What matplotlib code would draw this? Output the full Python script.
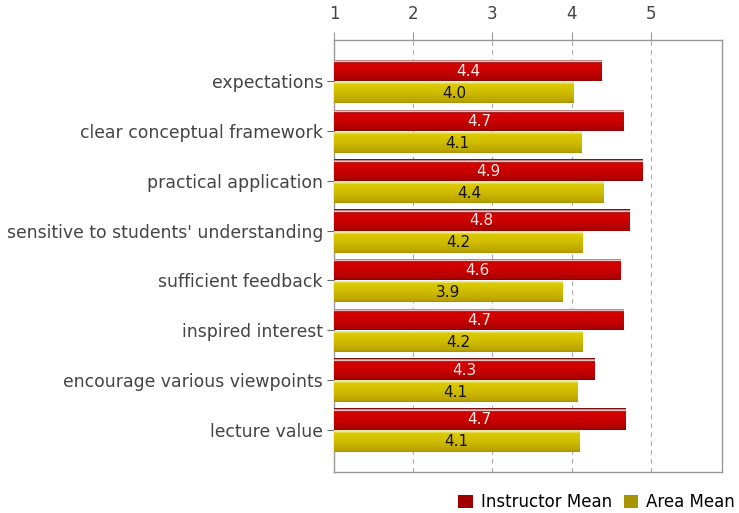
import numpy as np
import matplotlib
matplotlib.use("Agg")
import matplotlib.pyplot as plt
from matplotlib.colors import LinearSegmentedColormap
from matplotlib.patches import Patch

categories = ["expectations", "clear conceptual framework", "practical application",
              "sensitive to students' understanding", "sufficient feedback",
              "inspired interest", "encourage various viewpoints", "lecture value"]
instructor_mean = [4.38, 4.66, 4.90, 4.73, 4.62, 4.66, 4.29, 4.68]
area_mean = [4.03, 4.12, 4.41, 4.14, 3.89, 4.14, 4.07, 4.10]
instructor_labels = ["4.4", "4.7", "4.9", "4.8", "4.6", "4.7", "4.3", "4.7"]
area_labels = ["4.0", "4.1", "4.4", "4.2", "3.9", "4.2", "4.1", "4.1"]
xticks = [1, 2, 3, 4, 5]

fig = plt.figure(figsize=(7.39, 5.13), dpi=100)
ax = fig.add_axes([0.452, 0.080, 0.525, 0.842])

base = 1.0
h = 0.43
y = np.arange(len(categories))

red_cmap = LinearSegmentedColormap.from_list("r", [
    (0.0, "#7a1010"), (0.05, "#7a1010"), (0.07, "#f4dada"), (0.12, "#f4dada"),
    (0.15, "#8a0808"), (0.2, "#d80000"), (0.6, "#c60000"), (0.93, "#aa0000"),
    (1.0, "#900000")])
yel_cmap = LinearSegmentedColormap.from_list("y", [
    (0.0, "#f6f0b8"), (0.08, "#f0e690"), (0.14, "#dccb00"), (0.6, "#ccb800"),
    (0.93, "#b8a200"), (1.0, "#a89200")])
grad = np.linspace(0, 1, 128).reshape(-1, 1)

def draw(vals, offset, cmap, labels, tcolor):
    bars = ax.barh(y + offset, np.array(vals) - base, left=base, height=h,
                   color="none", edgecolor="none", zorder=3)
    for b, lab in zip(bars, labels):
        x0, y0 = b.get_x(), b.get_y()
        w, hh = b.get_width(), b.get_height()
        im = ax.imshow(grad, cmap=cmap, aspect="auto", interpolation="bilinear",
                       extent=[x0, x0 + w, y0 + hh, y0], zorder=3)
        im.set_clip_path(b)
        ax.text(x0 + w / 2, y0 + hh / 2 + 0.02, lab, ha="center", va="center",
                color=tcolor, fontsize=11, zorder=5)
    return bars

draw(instructor_mean, -h / 2, red_cmap, instructor_labels, "#fbe8e8")
draw(area_mean, h / 2 + 0.01, yel_cmap, area_labels, "#111111")

ax.set_xlim(1, 5.9)
ax.set_ylim(len(categories) - 1 + 0.85, -0.83)
ax.set_xticks(xticks)
ax.xaxis.tick_top()
ax.tick_params(axis="x", which="both", length=6, color="#999999", labelsize=12,
               labelcolor="#444444", direction="out", pad=6)
ax.set_yticks(y)
ax.set_yticklabels(categories)
ax.tick_params(axis="y", length=5, color="#666666", labelsize=12.4, labelcolor="#444444", pad=3)
ax.grid(axis="x", color="#aaaaaa", linestyle=(0, (4, 4)), linewidth=0.8, zorder=0)
ax.set_axisbelow(True)
for s in ax.spines.values():
    s.set_color("#999999")
    s.set_linewidth(1.0)

handles = [Patch(facecolor="#a00000", edgecolor="none", label="Instructor Mean"),
           Patch(facecolor="#a89400", edgecolor="none", label="Area Mean")]
fig.legend(handles=handles, loc="lower right", bbox_to_anchor=(1.008, -0.016), ncol=2,
           frameon=False, fontsize=12, handlelength=0.85, handleheight=0.85,
           handletextpad=0.5, columnspacing=0.7, borderaxespad=0.2)

fig.savefig("out.png", dpi=100)
